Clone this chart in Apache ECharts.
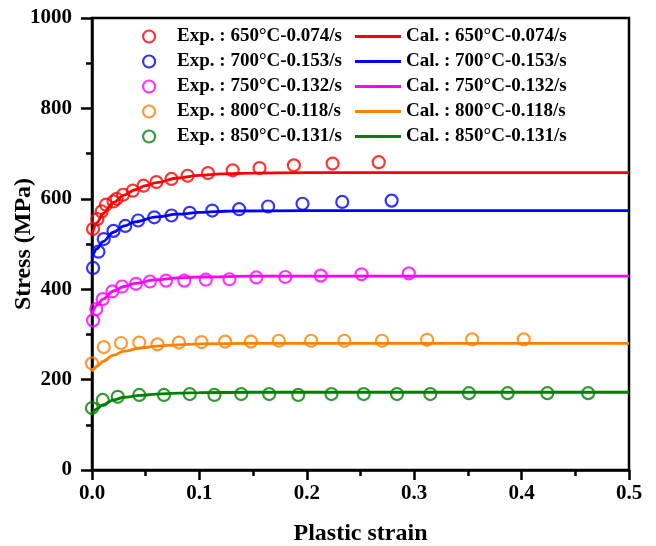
<!DOCTYPE html>
<html>
<head>
<meta charset="utf-8">
<script src="https://cdn.jsdelivr.net/npm/echarts@6/dist/echarts.min.js"></script>
<style>
  html, body { margin: 0; padding: 0; background: #fff; }
  #chart { width: 656px; height: 546px; }
</style>
</head>
<body>
<div id="chart"></div>
<script>
// experimental points
var exp650Strain = [0.001, 0.005, 0.009, 0.013, 0.020, 0.023, 0.029, 0.038, 0.048, 0.060, 0.074, 0.089, 0.108, 0.131, 0.156, 0.188, 0.224, 0.267];
var exp650Stress = [533, 555, 572, 587, 594, 600, 609, 618, 629, 637, 644, 651, 657, 663, 668, 674, 678, 681];
var exp700Strain = [0.001, 0.006, 0.011, 0.020, 0.031, 0.043, 0.058, 0.074, 0.091, 0.112, 0.137, 0.164, 0.196, 0.233, 0.279];
var exp700Stress = [447, 483, 511, 529, 540, 552, 559, 563, 569, 574, 577, 583, 589, 593, 596];
var exp750Strain = [0.001, 0.004, 0.010, 0.019, 0.028, 0.041, 0.054, 0.069, 0.086, 0.106, 0.128, 0.153, 0.180, 0.213, 0.251, 0.295];
var exp750Stress = [331, 356, 378, 395, 406, 412, 417, 419, 419, 421, 422, 426, 427, 430, 433, 435];
var exp800Strain = [0.000, 0.011, 0.027, 0.044, 0.061, 0.081, 0.102, 0.124, 0.148, 0.174, 0.204, 0.235, 0.270, 0.312, 0.354, 0.402];
var exp800Stress = [236, 272, 281, 282, 278, 282, 283, 284, 284, 286, 286, 286, 286, 288, 289, 289];
var exp850Strain = [0.000, 0.010, 0.024, 0.044, 0.067, 0.091, 0.114, 0.139, 0.165, 0.192, 0.223, 0.253, 0.284, 0.315, 0.351, 0.387, 0.424, 0.462];
var exp850Stress = [137, 155, 162, 166, 166, 168, 166, 168, 168, 166, 168, 168, 168, 168, 170, 170, 170, 170];

// calculated curves
var cal650Strain = [0, 0.005, 0.01, 0.02, 0.03, 0.04, 0.05, 0.06, 0.08, 0.1, 0.12, 0.15, 0.2, 0.3, 0.5];
var cal650Stress = [520, 548, 567, 592, 608, 620, 629, 636, 646, 652, 655, 657, 658, 658, 658];
var cal700Strain = [0, 0.005, 0.01, 0.02, 0.03, 0.04, 0.06, 0.08, 0.1, 0.13, 0.2, 0.5];
var cal700Stress = [470, 490, 505, 526, 540, 549, 560, 566, 570, 573, 574, 574];
var cal750Strain = [0, 0.005, 0.01, 0.02, 0.03, 0.04, 0.06, 0.08, 0.1, 0.15, 0.2, 0.5];
var cal750Stress = [345, 365, 378, 396, 406, 413, 421, 425, 427, 429, 429, 429];
var cal800Strain = [0, 0.005, 0.01, 0.02, 0.03, 0.045, 0.06, 0.08, 0.1, 0.15, 0.2, 0.5];
var cal800Stress = [218, 230, 240, 254, 263, 270, 274, 277, 279, 280, 280, 280];
var cal850Strain = [0, 0.005, 0.01, 0.02, 0.03, 0.045, 0.06, 0.08, 0.1, 0.15, 0.5];
var cal850Stress = [125, 136, 144, 155, 161, 165, 168, 170, 171, 172, 172];

var expNames = ['Exp. : 650°C-0.074/s', 'Exp. : 700°C-0.153/s', 'Exp. : 750°C-0.132/s', 'Exp. : 800°C-0.118/s', 'Exp. : 850°C-0.131/s'];
var calNames = ['Cal. : 650°C-0.074/s', 'Cal. : 700°C-0.153/s', 'Cal. : 750°C-0.132/s', 'Cal. : 800°C-0.118/s', 'Cal. : 850°C-0.131/s'];
var colors = ['#ff0000', '#0000ff', '#ff00ff', '#ff8000', '#008000'];

var expStrain = [exp650Strain, exp700Strain, exp750Strain, exp800Strain, exp850Strain];
var expStress = [exp650Stress, exp700Stress, exp750Stress, exp800Stress, exp850Stress];
var calStrain = [cal650Strain, cal700Strain, cal750Strain, cal800Strain, cal850Strain];
var calStress = [cal650Stress, cal700Stress, cal750Stress, cal800Stress, cal850Stress];

function zip(xs, ys) {
  return xs.map(function (x, i) { return [x, ys[i]]; });
}

var font = "'Liberation Serif', 'Times New Roman', serif";
var myChart = echarts.init(document.getElementById('chart'));

var series = [];
for (var i = 0; i < 5; i++) {
  series.push({
    name: calNames[i],
    type: 'line',
    data: zip(calStrain[i], calStress[i]),
    smooth: 0.35,
    smoothMonotone: 'x',
    symbol: 'none',
    lineStyle: { color: colors[i], width: 2.8 },
    itemStyle: { color: colors[i] },
    z: 3
  });
  series.push({
    name: expNames[i],
    type: 'scatter',
    data: zip(expStrain[i], expStress[i]),
    symbol: 'circle',
    symbolSize: 12,
    itemStyle: { color: 'rgba(0,0,0,0)', borderColor: colors[i], borderWidth: 2.2 },
    z: 4
  });
}

var legendText = { fontFamily: font, fontWeight: 'bold', fontSize: 19, color: '#000', lineHeight: 16 };

var option = {
  animation: false,
  backgroundColor: '#fff',
  grid: {
    left: 92, right: 27, top: 18, bottom: 76,
    containLabel: false,
    outerBoundsMode: 'none',
    show: true, borderColor: '#000', borderWidth: 2.5, backgroundColor: 'transparent'
  },
  legend: [
    {
      data: expNames.map(function (n, i) {
        return { name: n, icon: 'circle', itemStyle: { color: 'rgba(0,0,0,0)', borderColor: colors[i], borderWidth: 2.2 } };
      }),
      orient: 'vertical',
      left: 142, top: 27,
      itemWidth: 46, itemHeight: 12, itemGap: 6,
      padding: 0,
      selectedMode: false,
      textStyle: legendText
    },
    {
      data: calNames.map(function (n, i) {
        return { name: n, icon: 'rect', itemStyle: { color: colors[i] } };
      }),
      orient: 'vertical',
      left: 355, top: 27,
      itemWidth: 46, itemHeight: 3, itemGap: 6,
      padding: 0,
      selectedMode: false,
      textStyle: legendText
    }
  ],
  xAxis: {
    type: 'value',
    min: 0, max: 0.5, interval: 0.1,
    name: 'Plastic strain',
    nameLocation: 'middle',
    nameGap: 52,
    nameMoveOverlap: false,
    nameTextStyle: { fontFamily: font, fontWeight: 'bold', fontSize: 24, color: '#000' },
    axisLine: { show: true, onZero: false, lineStyle: { color: '#000', width: 2.5 } },
    axisTick: { show: true, inside: false, length: 10, lineStyle: { color: '#000', width: 2.5 } },
    minorTick: { show: true, splitNumber: 2, length: 6, lineStyle: { color: '#000', width: 2.5 } },
    splitLine: { show: false },
    axisLabel: {
      margin: 13,
      fontFamily: font, fontWeight: 'bold', fontSize: 21, color: '#000',
      formatter: function (v) { return v.toFixed(1); }
    }
  },
  yAxis: {
    type: 'value',
    min: 0, max: 1000, interval: 200,
    name: 'Stress (MPa)',
    nameLocation: 'middle',
    nameGap: 56,
    nameMoveOverlap: false,
    nameTextStyle: { fontFamily: font, fontWeight: 'bold', fontSize: 24, color: '#000' },
    axisLine: { show: true, onZero: false, lineStyle: { color: '#000', width: 2.5 } },
    axisTick: { show: true, inside: false, length: 11, lineStyle: { color: '#000', width: 2.5 } },
    minorTick: { show: true, splitNumber: 2, length: 6, lineStyle: { color: '#000', width: 2.5 } },
    splitLine: { show: false },
    axisLabel: {
      margin: 20,
      fontFamily: font, fontWeight: 'bold', fontSize: 21, color: '#000',
      formatter: function (v) { return String(v); }
    }
  },
  series: series
};

myChart.setOption(option);
window.onresize = function () {
  myChart.resize();
};
</script>
</body>
</html>
